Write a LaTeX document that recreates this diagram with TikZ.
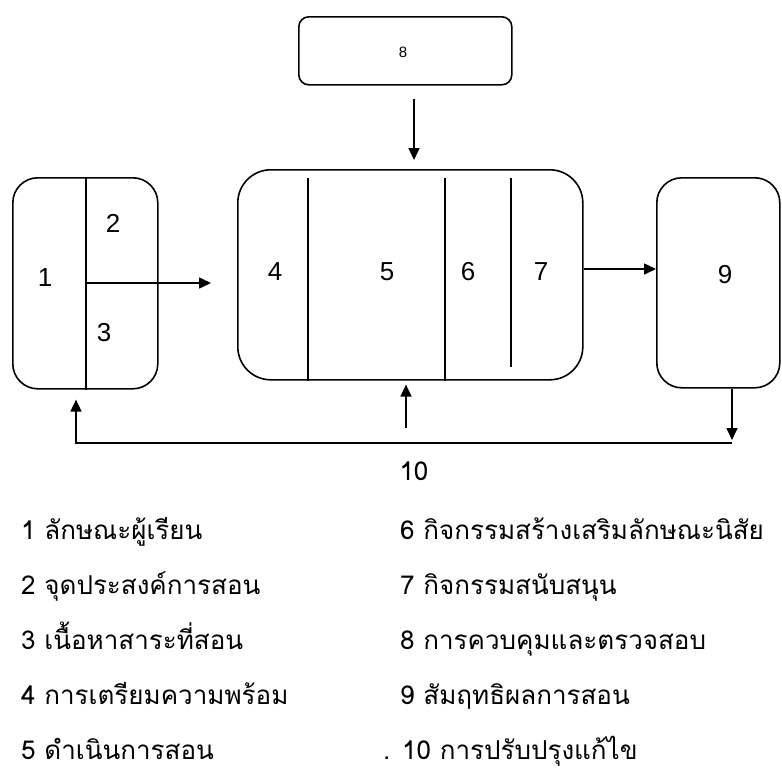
\documentclass[tikz,border=0pt]{standalone}
\usepackage{fontspec}
\setmainfont{Liberation Sans}
\newfontfamily\thaifont[Script=Thai]{Loma}
\usetikzlibrary{arrows.meta}
\begin{document}
\begin{tikzpicture}[x=1pt,y=-1pt,
base/.style={
draw,
line width=1.6pt,
inner sep=0pt,
anchor=north west,
},
num/.style={
font={\fontsize{26pt}{28}\selectfont},
},
legend/.style={
anchor=base west,
inner sep=0pt,
text depth=0pt,
font={\thaifont\fontsize{26pt}{28}\selectfont},
},
divider/.style={
line width=1.1pt,
},
link/.style={
line width=1.6pt,
-{Triangle[length=12pt,width=11pt]},
},
]
\useasboundingbox (0,0) rectangle (782,772);
\node[base,rounded corners=10pt,minimum width=213pt,minimum height=68pt](ctrl)at(298,16){};
\node[font={\fontsize{15pt}{16}\selectfont}](n8)at(403,52){8};
\node[base,rounded corners=25pt,minimum width=145pt,minimum height=211pt](input)at(12,177){};
\node[base,rounded corners=33pt,minimum width=345pt,minimum height=210pt](proc)at(237,169){};
\node[base,rounded corners=25pt,minimum width=123pt,minimum height=210pt](result)at(656,177){};
\draw[divider](86,0 |- input.north)--(86,0 |- input.south);
\draw[divider](308,178)--(308,0 |- proc.south);
\draw[divider](445,178)--(445,0 |- proc.south);
\draw[divider](511,178)--(511,367);
\node[num](n1)at(45,278){1};
\node[num](n2)at(113,223){2};
\node[num](n3)at(104,333){3};
\node[num](n4)at(275,272){4};
\node[num](n5)at(387,272){5};
\node[num](n6)at(468,272){6};
\node[num](n7)at(541,272){7};
\node[num](n9)at(725,275){9};
\coordinate(split)at(86,283);
\coordinate(fb)at(406,428);
\coordinate(loopR)at(732,443);
\coordinate(loopL)at(76,443);
\draw[link,shorten >=26pt](split)--(split -| proc.west);
\draw[link](proc.east |- 0,269)--(result.west |- 0,269);
\draw[link,shorten <=13pt,shorten >=9pt](ctrl.south -| 414,0)--(proc.north -| 414,0);
\draw[link,shorten >=4pt](fb)--(fb |- proc.south);
\draw[link,shorten >=3pt](loopR |- result.south)--(loopR);
\draw[link,shorten >=10pt](loopR)--(loopL)--(loopL |- input.south);
\node[legend,anchor=base](n10)at(414,480){10};
\node[legend](l1)at(21,539){1 ลักษณะผู้เรียน};
\node[legend](l2)at(21,594){2 จุดประสงค์การสอน};
\node[legend](l3)at(21,649){3 เนื้อหาสาระที่สอน};
\node[legend](l4)at(21,704){4 การเตรียมความพร้อม};
\node[legend](l5)at(21,759){5 ดำเนินการสอน};
\node[legend](l6)at(400,539){6 กิจกรรมสร้างเสริมลักษณะนิสัย};
\node[legend](l7)at(400,594){7 กิจกรรมสนับสนุน};
\node[legend](l8)at(400,649){8 การควบคุมและตรวจสอบ};
\node[legend](l9)at(400,704){9 สัมฤทธิผลการสอน};
\node[legend](l10)at(383,759){. 10 การปรับปรุงแก้ไข};
\end{tikzpicture}
\end{document}
